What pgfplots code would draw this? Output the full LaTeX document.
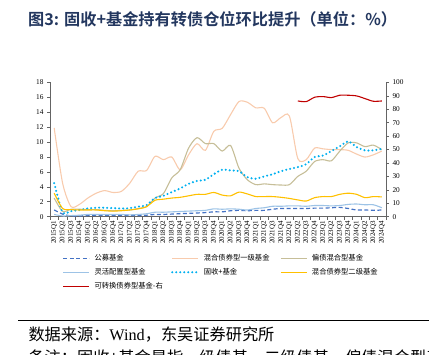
\documentclass[border=0pt]{standalone}
\usepackage{fontspec}
\usepackage{pgfplots}
\pgfplotsset{compat=1.18}
\setmainfont{Liberation Serif}
\newfontfamily\cjk{Noto Sans CJK SC}
\newfontfamily\cjkb{Noto Sans CJK SC Bold}
\definecolor{cDash}{RGB}{68,114,196}
\definecolor{cPeach}{RGB}{248,203,173}
\definecolor{cTan}{RGB}{198,190,152}
\definecolor{cLblue}{RGB}{157,195,230}
\definecolor{cCyan}{RGB}{0,176,240}
\definecolor{cGold}{RGB}{255,192,0}
\definecolor{cRed}{RGB}{192,0,0}
\definecolor{cTitle}{RGB}{35,55,95}
\definecolor{cAxis}{RGB}{100,100,100}
\begin{document}
\begin{tikzpicture}[x=1pt,y=1pt]
\useasboundingbox (0,0) rectangle (429,355);
\node[anchor=base west,text=cTitle,inner sep=0pt] at (28,329.5) {\cjkb\fontsize{16.2}{18}\selectfont 图3: 固收+基金持有转债仓位环比提升（单位：\%）};
\begin{axis}[
  at={(50pt,138.3pt)}, anchor=south west, scale only axis,
  width=336pt, height=134.2pt,
  xmin=-0.5, xmax=39.5, ymin=0, ymax=18,
  ytick={0,2,...,18},
  axis x line*=bottom, axis y line*=left,
  axis line style={draw=cAxis, line width=0.6pt, -},
  tick style={draw=cAxis, line width=0.6pt},
  tick align=outside, major tick length=3pt, minor tick length=3pt,
  xtick={0,...,39},
  xticklabels={2015Q1,2015Q2,2015Q3,2015Q4,2016Q1,2016Q2,2016Q3,2016Q4,2017Q1,2017Q2,2017Q3,2017Q4,2018Q1,2018Q2,2018Q3,2018Q4,2019Q1,2019Q2,2019Q3,2019Q4,2020Q1,2020Q2,2020Q3,2020Q4,2021Q1,2021Q2,2021Q3,2021Q4,2022Q1,2022Q2,2022Q3,2022Q4,2023Q1,2023Q2,2023Q3,2023Q4,2024Q1,2024Q2,2024Q3,2024Q4},
  major x tick style={draw=none},
  minor xtick={-0.5,0.5,...,39.5},
  xticklabel style={rotate=90, anchor=east, font=\fontsize{7}{8}\selectfont, inner sep=1.5pt},
  yticklabel style={font=\fontsize{7.3}{8}\selectfont},
  /pgf/number format/assume math mode=true,
  legend columns=3,
  legend cell align=left,
  legend image code/.code={\draw[#1] (0pt,0pt) -- (26pt,0pt);},
  legend style={at={(axis description cs:0.0378,-0.2817)}, anchor=north west,
    draw=none, fill=none, inner sep=0pt, column sep=4.5pt, row sep=7pt,
    font=\cjk\fontsize{7.3}{8}\selectfont,
    nodes={text width=72pt, text height=6pt, text depth=1pt, inner sep=0pt, align=left}},
  every axis plot/.append style={line width=1.1pt, smooth, tension=0.45},
]
\addplot[cDash, dash pattern=on 4pt off 2.5pt, line width=1.2pt] coordinates {
(0,0.9)(1,0.35)(2,0.1)(3,0.1)(4,0.15)(5,0.2)(6,0.2)(7,0.2)(8,0.2)(9,0.15)(10,0.15)(11,0.2)(12,0.3)(13,0.3)(14,0.35)(15,0.4)(16,0.45)(17,0.5)(18,0.55)(19,0.65)(20,0.65)(21,0.8)(22,0.85)(23,0.8)(24,0.85)(25,0.85)(26,1.0)(27,1.1)(28,1.1)(29,1.1)(30,1.1)(31,1.15)(32,1.15)(33,1.2)(34,1.25)(35,1.1)(36,0.9)(37,0.9)(38,0.85)(39,0.9)};
\addlegendentry{公募基金}
\addplot[cPeach] coordinates {
(0,11.9)(1,4.5)(2,1.35)(3,1.65)(4,2.5)(5,3.15)(6,3.5)(7,3.25)(8,3.4)(9,4.5)(10,6.1)(11,6.2)(12,8.1)(13,7.65)(14,8.0)(15,6.3)(16,8.3)(17,9.8)(18,8.9)(19,11.45)(20,11.85)(21,13.7)(22,15.45)(23,15.35)(24,14.6)(25,14.55)(26,12.6)(27,13.3)(28,13.5)(29,7.8)(30,7.65)(31,9.2)(32,9.1)(33,9.0)(34,9.0)(35,8.9)(36,8.4)(37,8.0)(38,8.3)(39,8.8)};
\addlegendentry{混合债券型一级基金}
\addplot[cTan] coordinates {
(0,2.5)(1,0.7)(2,1.0)(3,1.0)(4,0.95)(5,0.95)(6,0.85)(7,0.8)(8,0.85)(9,0.9)(10,1.1)(11,1.35)(12,2.5)(13,3.1)(14,5.2)(15,6.3)(16,9.2)(17,10.6)(18,9.8)(19,9.8)(20,8.8)(21,9.55)(22,6.5)(23,4.95)(24,4.3)(25,4.4)(26,4.3)(27,4.25)(28,4.3)(29,5.4)(30,6.1)(31,7.4)(32,7.65)(33,7.5)(34,8.8)(35,9.9)(36,9.9)(37,9.4)(38,9.6)(39,9.0)};
\addlegendentry{偏债混合型基金}
\addplot[cLblue] coordinates {
(0,0.3)(1,0.1)(2,0.15)(3,0.2)(4,0.3)(5,0.3)(6,0.3)(7,0.3)(8,0.3)(9,0.25)(10,0.3)(11,0.4)(12,0.6)(13,0.6)(14,0.65)(15,0.7)(16,0.75)(17,0.8)(18,0.85)(19,1.05)(20,1.0)(21,1.05)(22,1.0)(23,0.9)(24,1.1)(25,1.2)(26,1.4)(27,1.4)(28,1.45)(29,1.45)(30,1.4)(31,1.5)(32,1.5)(33,1.45)(34,1.5)(35,1.65)(36,1.7)(37,1.6)(38,1.6)(39,1.2)};
\addlegendentry{灵活配置型基金}
\addplot[cCyan, line width=2.3pt, line cap=round, dash pattern=on 0pt off 4pt] coordinates {
(0,4.5)(1,0.6)(2,0.75)(3,0.9)(4,1.1)(5,1.2)(6,1.2)(7,1.15)(8,1.1)(9,1.15)(10,1.35)(11,1.55)(12,2.5)(13,2.8)(14,3.3)(15,3.8)(16,4.4)(17,4.8)(18,4.95)(19,5.7)(20,6.3)(21,6.2)(22,6.1)(23,5.3)(24,5.1)(25,5.4)(26,5.7)(27,6.1)(28,6.4)(29,6.65)(30,7.05)(31,8.0)(32,8.2)(33,8.8)(34,9.45)(35,10.1)(36,9.35)(37,8.9)(38,8.9)(39,9.1)};
\addlegendentry{固收+基金}
\addplot[cGold] coordinates {
(0,3.15)(1,1.1)(2,0.95)(3,0.9)(4,0.9)(5,0.9)(6,0.8)(7,0.75)(8,0.8)(9,0.9)(10,1.05)(11,1.35)(12,2.2)(13,2.35)(14,2.5)(15,2.6)(16,2.8)(17,3.0)(18,3.0)(19,3.25)(20,2.9)(21,2.8)(22,3.3)(23,3.05)(24,2.7)(25,2.7)(26,2.7)(27,2.6)(28,2.45)(29,2.25)(30,2.1)(31,2.55)(32,2.7)(33,2.7)(34,3.0)(35,3.15)(36,3.0)(37,2.55)(38,2.7)(39,2.65)};
\addlegendentry{混合债券型二级基金}
\addlegendimage{cRed, line width=1.1pt}
\addlegendentry{可转换债券型基金-右}
\end{axis}
\begin{axis}[
  at={(50pt,138.3pt)}, anchor=south west, scale only axis,
  width=336pt, height=134.2pt,
  xmin=-0.5, xmax=39.5, ymin=0, ymax=100,
  ytick={0,10,...,100},
  axis y line*=right, axis x line=none,
  axis line style={draw=cAxis, line width=0.6pt, -},
  tick style={draw=cAxis, line width=0.6pt},
  tick align=outside, major tick length=3pt,
  yticklabel style={font=\fontsize{7.3}{8}\selectfont},
  /pgf/number format/assume math mode=true,
]
\addplot[cRed, line width=1.1pt, smooth, tension=0.45] coordinates {
(29,86.25)(30,85.75)(31,89)(32,89.5)(33,88.75)(34,90.5)(35,90.5)(36,90)(37,88)(38,86)(39,86.25)};
\end{axis}
\draw[black, line width=1.2pt] (18,34.3) -- (429,34.3);
\node[anchor=base west,inner sep=0pt] at (28.3,14) {\cjk\fontsize{16.2}{18}\selectfont 数据来源：\fontspec{Liberation Serif}Wind\cjk，东吴证券研究所};
\node[anchor=base west,inner sep=0pt] at (28.3,-8.5) {\cjk\fontsize{16.2}{18}\selectfont 备注：固收+基金是指一级债基、二级债基、偏债混合型基金};
\end{tikzpicture}
\end{document}
